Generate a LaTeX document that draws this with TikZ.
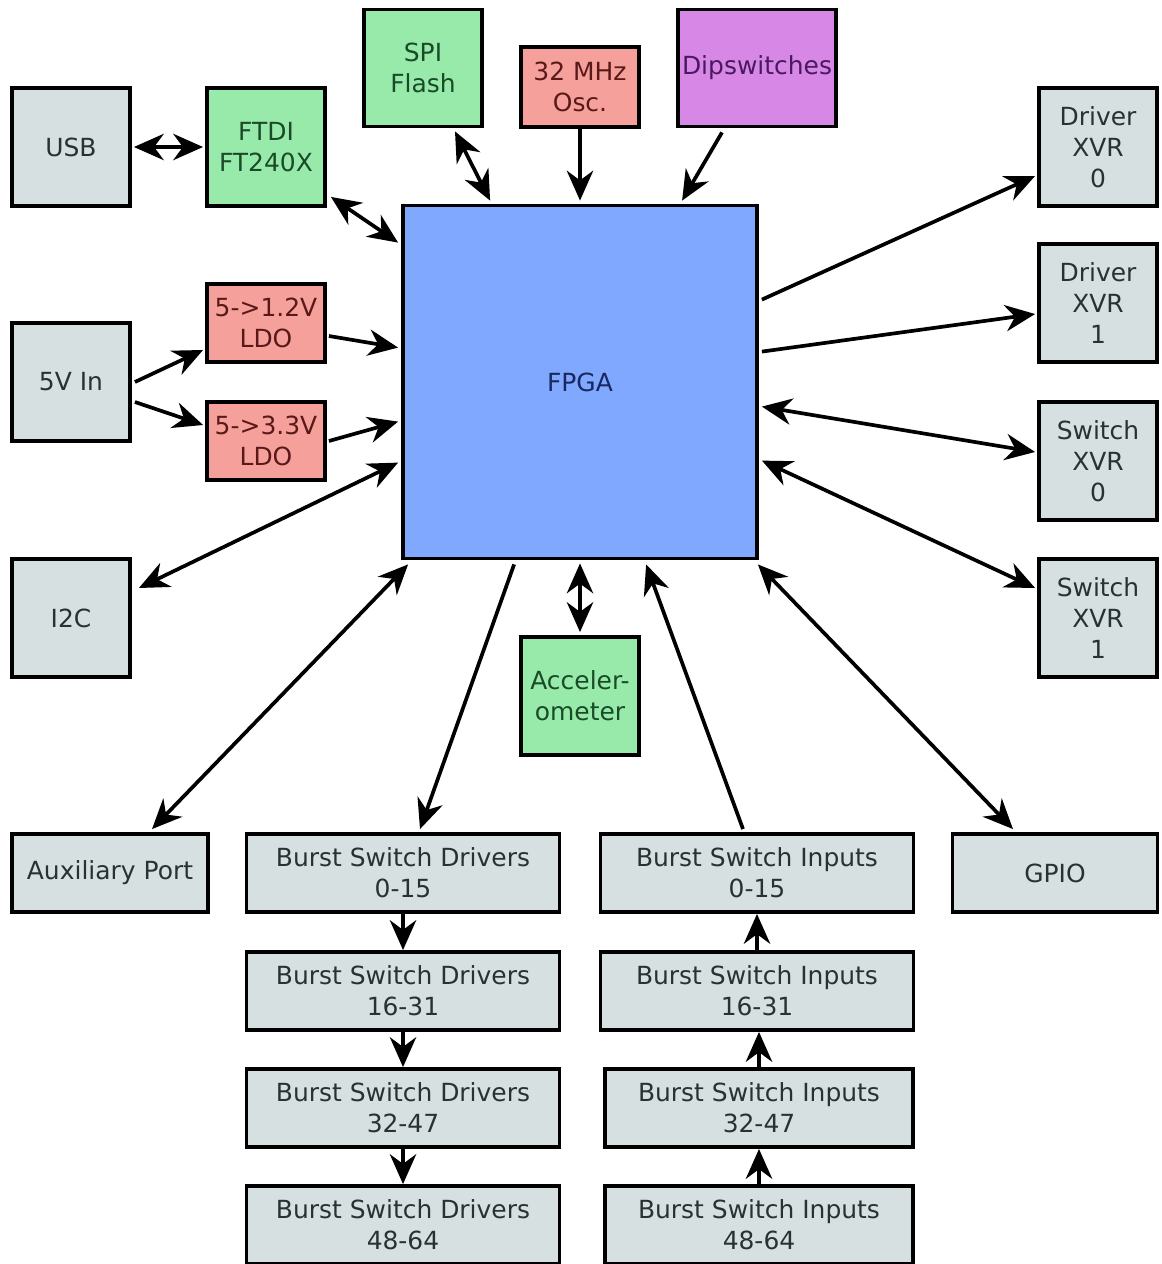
\documentclass[tikz,border=0pt]{standalone}
\usepackage{fontspec}
\setmainfont{DejaVu Sans}
\usetikzlibrary{arrows.meta,calc}
\definecolor{gfill}{RGB}{214,224,224}
\definecolor{gtext}{RGB}{40,50,50}
\definecolor{grfill}{RGB}{152,234,170}
\definecolor{grtext}{RGB}{25,75,40}
\definecolor{rfill}{RGB}{245,160,155}
\definecolor{rtext}{RGB}{90,25,25}
\definecolor{pfill}{RGB}{215,135,230}
\definecolor{ptext}{RGB}{75,25,95}
\definecolor{bfill}{RGB}{128,168,255}
\definecolor{btext}{RGB}{25,40,95}
\tikzset{
  x=0.02cm, y=-0.02cm,
  blk/.style={draw=black, line width=2.2pt, inner sep=0pt, align=center,
    font=\fontsize{14.2}{17.8}\selectfont},
  greybox/.style={blk, fill=gfill, text=gtext},
  greenbox/.style={blk, fill=grfill, text=grtext},
  redbox/.style={blk, fill=rfill, text=rtext},
  purplebox/.style={blk, fill=pfill, text=ptext},
  bluebox/.style={blk, fill=bfill, text=btext},
  sq/.style={minimum width=2.36cm, minimum height=2.36cm},
  wd/.style={minimum width=6.26cm, minimum height=1.56cm},
  tip/.tip={Stealth[length=17pt,width=15pt,inset=5.5pt]},
  conn/.style={line width=2.1pt, -tip},
  bconn/.style={line width=2.1pt, tip-tip},
}
\begin{document}
\begin{tikzpicture}
\fill[white] (0,0) rectangle (1162,1264);
\useasboundingbox (0,0) rectangle (1162,1264);

\node[greybox, sq] (usb) at (71,147) {USB};
\node[greenbox, sq] (ftdi) at (266,147) {FTDI\\FT240X};
\node[greenbox, minimum width=2.36cm, minimum height=2.34cm] (spi) at (423,68) {SPI\\Flash};
\node[redbox, minimum width=2.36cm, minimum height=1.6cm] (osc) at (580,87) {32 MHz\\Osc.};
\node[purplebox, minimum width=3.16cm, minimum height=2.34cm] (dip) at (757,68) {Dipswitches};
\node[greybox, sq] (dx0) at (1098,147) {Driver\\XVR\\0};
\node[greybox, sq] (dx1) at (1098,303) {Driver\\XVR\\1};
\node[greybox, sq] (sx0) at (1098,461) {Switch\\XVR\\0};
\node[greybox, sq] (sx1) at (1098,618) {Switch\\XVR\\1};
\node[greybox, sq] (v5) at (71,382) {5V In};
\node[redbox, minimum width=2.36cm, minimum height=1.56cm] (ldo12) at (266,323) {5->1.2V\\LDO};
\node[redbox, minimum width=2.36cm, minimum height=1.56cm] (ldo33) at (266,441) {5->3.3V\\LDO};
\node[greybox, sq] (i2c) at (71,618) {I2C};
\node[bluebox, minimum width=7.08cm, minimum height=7.06cm] (fpga) at (580,382) {FPGA};
\node[greenbox, sq] (acc) at (580,696) {Acceler-\\ometer};
\node[greybox, minimum width=3.92cm, minimum height=1.56cm] (aux) at (110,873) {Auxiliary Port};
\node[greybox, wd] (d0) at (403,873) {Burst Switch Drivers\\0-15};
\node[greybox, wd] (d1) at (403,991) {Burst Switch Drivers\\16-31};
\node[greybox, wd] (d2) at (403,1108) {Burst Switch Drivers\\32-47};
\node[greybox, wd] (d3) at (403,1225) {Burst Switch Drivers\\48-64};
\node[greybox, wd] (i0) at (757,873) {Burst Switch Inputs\\0-15};
\node[greybox, wd] (i1) at (757,991) {Burst Switch Inputs\\16-31};
\node[greybox, minimum width=6.16cm, minimum height=1.56cm] (i2) at (759,1108) {Burst Switch Inputs\\32-47};
\node[greybox, minimum width=6.16cm, minimum height=1.56cm] (i3) at (759,1225) {Burst Switch Inputs\\48-64};
\node[greybox, minimum width=4.1cm, minimum height=1.56cm] (gpio) at (1055,873) {GPIO};

% top connectors
\draw[bconn] ([xshift=0.04cm]usb.east) -- ([xshift=-0.04cm]ftdi.west);
\draw[bconn] ([shift={(4,-11)}]ftdi.south east) -- ([shift={(-3,39)}]fpga.north west);
\draw[bconn] ([shift={(32,3)}]spi.south) -- ([shift={(89,-3)}]fpga.north west);
\draw[conn] (osc.south) -- ([yshift=0.06cm]fpga.north);
\draw[conn] ([shift={(-35,4)}]dip.south) -- ([shift={(281,-3)}]fpga.north west);
% right connectors
\draw[conn] ([shift={(3,96)}]fpga.north east) -- ([shift={(-2,29)}]dx0.west);
\draw[conn] ([shift={(3,148)}]fpga.north east) -- ([shift={(-2,11)}]dx1.west);
\draw[bconn] ([shift={(3,203)}]fpga.north east) -- ([shift={(-2,-9)}]sx0.west);
\draw[bconn] ([shift={(3,257)}]fpga.north east) -- ([shift={(-2,-30)}]sx1.west);
% left connectors
\draw[conn] ([shift={(3,0)}]v5.east) -- ([shift={(-2,27)}]ldo12.west);
\draw[conn] ([shift={(3,20)}]v5.east) -- ([shift={(-2,-16)}]ldo33.west);
\draw[conn] ([shift={(2,13)}]ldo12.east) -- ([shift={(-3,144)}]fpga.north west);
\draw[conn] ([shift={(2,0)}]ldo33.east) -- ([shift={(-3,218)}]fpga.north west);
\draw[bconn] ([shift={(7,-30)}]i2c.east) -- ([shift={(-3,259)}]fpga.north west);
% bottom connectors
\draw[bconn] ([shift={(42,-3)}]aux.north) -- ([shift={(7,4)}]fpga.south west);
\draw[conn] ([shift={(113,4)}]fpga.south west) -- ([shift={(17,-3)}]d0.north);
\draw[bconn] ([yshift=-0.06cm]fpga.south) -- ([yshift=0.06cm]acc.north);
\draw[conn] ([shift={(-14,-3)}]i0.north) -- ([shift={(245,4)}]fpga.south west);
\draw[bconn] ([shift={(-42,-3)}]gpio.north) -- ([shift={(-1,4)}]fpga.south east);
% chains
\draw[conn] (d0.south) -- (d1.north);
\draw[conn] (d1.south) -- (d2.north);
\draw[conn] (d2.south) -- (d3.north);
\draw[conn] (i1.north) -- (i0.south);
\draw[conn] (i2.north) -- (i2.north |- i1.south);
\draw[conn] (i3.north) -- (i2.south);
\end{tikzpicture}
\end{document}
